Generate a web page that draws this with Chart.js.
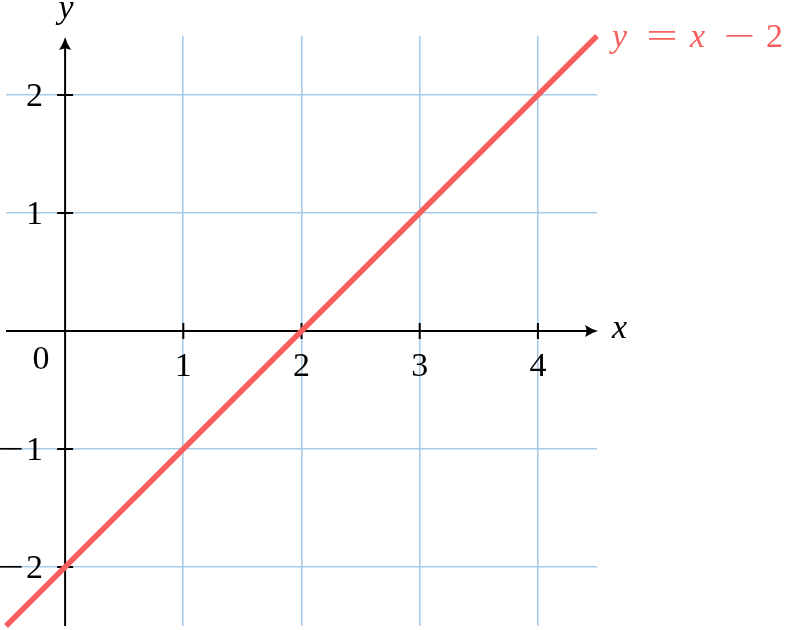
<!DOCTYPE html>
<html><head><meta charset="utf-8">
<script src="https://cdn.jsdelivr.net/npm/chart.js@4/dist/chart.umd.min.js"></script>
<style>html,body{margin:0;padding:0;background:#fff}#wrap{width:785px;height:630px;position:relative}</style>
</head><body><div id="wrap"><canvas id="c"></canvas></div>
<script>
// ---- data ----
const xGridTicks = [1, 2, 3, 4];
const yGridTicks = [-2, -1, 1, 2];
const xTickLabels = ['1', '2', '3', '4'];
const yTickLabels = ['2', '1', '\u22121', '\u22122'];
const yTickValues = [2, 1, -1, -2];
const lineX = [-0.5, 4.5];
const lineY = [-2.5, 2.5];
const xRange = [-0.5, 4.5];
const yRange = [-2.5, 2.5];
const formulaParts = ['y', '=', 'x', '\u2212', '2'];

const RED = '#F65F5D';
const GRID = '#A9CBEA';
const FONT = '"Liberation Serif", serif';
const FS = 34;

function arrow(ctx, tipX, tipY, dir) {
  ctx.save();
  ctx.translate(tipX, tipY);
  if (dir === 'up') ctx.rotate(-Math.PI / 2);
  ctx.beginPath();
  ctx.moveTo(0, 0);
  ctx.quadraticCurveTo(-6, -1.5, -13, -6);
  ctx.quadraticCurveTo(-10, 0, -13, 6);
  ctx.quadraticCurveTo(-6, 1.5, 0, 0);
  ctx.closePath();
  ctx.fillStyle = '#000';
  ctx.fill();
  ctx.restore();
}

function isSym(s) { return s === '=' || s === '\u2212'; }

// draw a symbol (= or minus) stretched horizontally to a target width, left-aligned at x
function drawSym(ctx, s, x, y, targetW) {
  ctx.save();
  ctx.font = FS + 'px ' + FONT;
  ctx.textAlign = 'left';
  const m = ctx.measureText(s);
  const gw = (m.actualBoundingBoxRight + m.actualBoundingBoxLeft) || m.width;
  const sx = targetW / gw;
  ctx.translate(x, y);
  ctx.scale(sx, 1);
  ctx.fillText(s, m.actualBoundingBoxLeft || 0, 0);
  ctx.restore();
}

function drawRight(ctx, txt, x, y) {
  let digits = txt, minus = false;
  if (txt[0] === '\u2212') { minus = true; digits = txt.slice(1); }
  ctx.textAlign = 'right';
  ctx.font = FS + 'px ' + FONT;
  ctx.fillText(digits, x, y);
  if (minus) {
    const w = ctx.measureText(digits).width;
    drawSym(ctx, '\u2212', x - w - 30, y, 26);
  }
}

const axesPlugin = {
  id: 'axes',
  beforeDatasetsDraw(chart) {
    const ctx = chart.ctx;
    const xs = chart.scales.x, ys = chart.scales.y;
    const x0 = xs.getPixelForValue(0), y0 = ys.getPixelForValue(0);
    const area = chart.chartArea;
    ctx.save();
    ctx.strokeStyle = '#000';
    ctx.lineWidth = 2;
    ctx.beginPath();
    ctx.moveTo(area.left, y0); ctx.lineTo(area.right - 4, y0);
    ctx.moveTo(x0, area.bottom); ctx.lineTo(x0, area.top + 4);
    xGridTicks.forEach(v => {
      const p = xs.getPixelForValue(v);
      ctx.moveTo(p, y0 - 8); ctx.lineTo(p, y0 + 8);
    });
    yGridTicks.forEach(v => {
      const p = ys.getPixelForValue(v);
      ctx.moveTo(x0 - 8, p); ctx.lineTo(x0 + 8, p);
    });
    ctx.stroke();
    arrow(ctx, area.right + 1, y0, 'right');
    arrow(ctx, x0, area.top + 1, 'up');
    ctx.restore();
  },
  afterDatasetsDraw(chart) {
    const ctx = chart.ctx;
    const xs = chart.scales.x, ys = chart.scales.y;
    const x0 = xs.getPixelForValue(0), y0 = ys.getPixelForValue(0);
    const area = chart.chartArea;
    ctx.save();
    ctx.fillStyle = '#000';
    ctx.font = FS + 'px ' + FONT;
    ctx.textBaseline = 'alphabetic';
    ctx.textAlign = 'center';
    xGridTicks.forEach((v, i) => {
      ctx.fillText(xTickLabels[i], xs.getPixelForValue(v), y0 + 45);
    });
    ctx.fillText('0', x0 - 24, y0 + 38);
    yTickValues.forEach((v, i) => {
      drawRight(ctx, yTickLabels[i], x0 - 22, ys.getPixelForValue(v) + 11);
    });
    // axis labels
    ctx.font = 'italic ' + FS + 'px ' + FONT;
    ctx.textAlign = 'center';
    ctx.fillText('y', x0 + 1, 18);
    ctx.textAlign = 'left';
    ctx.fillText('x', area.right + 15, y0 + 7);
    // formula label
    ctx.fillStyle = RED;
    const starts = [15, 51, 93, 128, 169];
    formulaParts.forEach((p, i) => {
      const xx = area.right + starts[i];
      if (isSym(p)) {
        drawSym(ctx, p, xx, 47, 28);
      } else {
        ctx.font = (p === 'x' || p === 'y' ? 'italic ' : '') + FS + 'px ' + FONT;
        ctx.textAlign = 'left';
        ctx.fillText(p, xx, 47);
      }
    });
    ctx.restore();
  }
};

new Chart(document.getElementById('c'), {
  type: 'scatter',
  data: {
    datasets: [{
      data: lineX.map((x, i) => ({ x: x, y: lineY[i] })),
      showLine: true,
      borderColor: RED,
      borderWidth: 5.5,
      pointRadius: 0,
      clip: false
    }]
  },
  options: {
    responsive: true,
    maintainAspectRatio: false,
    animation: false,
    devicePixelRatio: 1,
    layout: { padding: { left: 6, right: 188, top: 36, bottom: 4 } },
    plugins: { legend: { display: false }, tooltip: { enabled: false } },
    scales: {
      x: {
        type: 'linear', min: xRange[0], max: xRange[1],
        afterBuildTicks: s => { s.ticks = xGridTicks.map(v => ({ value: v })); },
        ticks: { display: false },
        grid: { color: GRID, lineWidth: 1.6, drawTicks: false, tickLength: 0 },
        border: { display: false }
      },
      y: {
        type: 'linear', min: yRange[0], max: yRange[1],
        afterBuildTicks: s => { s.ticks = yGridTicks.map(v => ({ value: v })); },
        ticks: { display: false },
        grid: { color: GRID, lineWidth: 1.6, drawTicks: false, tickLength: 0 },
        border: { display: false }
      }
    }
  },
  plugins: [axesPlugin]
});
</script>
</body></html>
